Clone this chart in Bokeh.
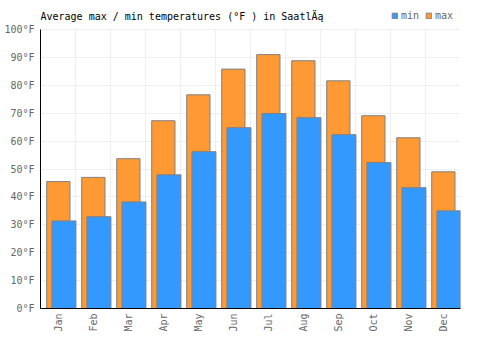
import math
from bokeh.plotting import figure
from bokeh.models import ColumnDataSource, FixedTicker, Legend, LegendItem, Range1d, Label
from bokeh.embed import file_html
from bokeh.resources import INLINE

months = ["Jan", "Feb", "Mar", "Apr", "May", "Jun", "Jul", "Aug", "Sep", "Oct", "Nov", "Dec"]
max_temp = [45.5, 47, 53.7, 67.3, 76.6, 85.8, 91, 88.8, 81.6, 69.1, 61.2, 49]
min_temp = [31.4, 32.9, 38.2, 47.9, 56.2, 64.8, 69.9, 68.4, 62.3, 52.3, 43.3, 35]
y_ticks = list(range(0, 101, 10))
title_text = "Average max / min temperatures (°F ) in SaatlÄą"

FONT = "DejaVu Sans Mono"

idx = list(range(len(months)))
src = ColumnDataSource(dict(
    xmax=[i + 0.51 for i in idx],
    xmin=[i + 0.67 for i in idx],
    tmax=max_temp,
    tmin=min_temp,
))

# frame spans the full height above the x axis; data 0..100 occupies the lower 279 px
FRAME_H = 308
Y_TOP = 100 * FRAME_H / 279.0

p = figure(width=500, height=350, output_backend="svg", toolbar_location=None,
           x_range=Range1d(0, 12), y_range=Range1d(0, Y_TOP),
           min_border_left=40, min_border_right=40, min_border_top=0, min_border_bottom=42)
p.title.text = ""

rmax = p.vbar(x="xmax", top="tmax", bottom=0, width=0.665, source=src,
              fill_color="#ff9933", line_color="#808080", line_width=1)
rmin = p.vbar(x="xmin", top="tmin", bottom=0, width=0.685, source=src,
              fill_color="#3399ff", line_color="#808080", line_width=1)

p.outline_line_color = None
p.background_fill_color = "white"

# axes
p.xaxis.ticker = FixedTicker(ticks=[i + 0.5 for i in idx])
p.xaxis.major_label_overrides = {i + 0.5: m for i, m in enumerate(months)}
p.xaxis.major_label_orientation = math.pi / 2
p.yaxis.ticker = FixedTicker(ticks=y_ticks)
p.yaxis.major_label_overrides = {t: f"{t}°F" for t in y_ticks}
p.yaxis.bounds = (0, 100)
for ax in (p.xaxis, p.yaxis):
    ax.major_label_text_font = FONT
    ax.major_label_text_font_size = "10px"
    ax.major_label_text_color = "#666666"
    ax.major_tick_line_color = None
    ax.minor_tick_line_color = None
    ax.major_tick_out = 0
    ax.major_tick_in = 0
    ax.minor_tick_out = 0
    ax.minor_tick_in = 0
    ax.axis_line_color = "#000000"
    ax.axis_line_width = 1
p.yaxis.major_label_standoff = 6
p.xaxis.major_label_standoff = 5

p.xgrid.ticker = FixedTicker(ticks=list(range(13)))
p.xgrid.cross_bounds = (0, 100)
p.xgrid.grid_line_color = "#eeeeee"
p.ygrid.grid_line_color = "#eeeeee"

title = Label(x=0, y=FRAME_H - 15.5, x_units="screen", y_units="screen",
              text=title_text, text_font=FONT, text_font_size="10px",
              text_color="#000000", text_baseline="middle", text_align="left")
p.add_layout(title)

legend = Legend(items=[LegendItem(label="min", renderers=[rmin]),
                       LegendItem(label="max", renderers=[rmax])],
                location=(351, FRAME_H - 21), orientation="horizontal",
                glyph_width=7, glyph_height=7, label_standoff=3, spacing=4,
                padding=0, margin=0, border_line_color=None, background_fill_alpha=0,
                label_text_font=FONT, label_text_font_size="10px", label_text_color="#666666",
                label_height=10)
p.add_layout(legend, "center")

open("out.html", "w").write(file_html(p, INLINE))
